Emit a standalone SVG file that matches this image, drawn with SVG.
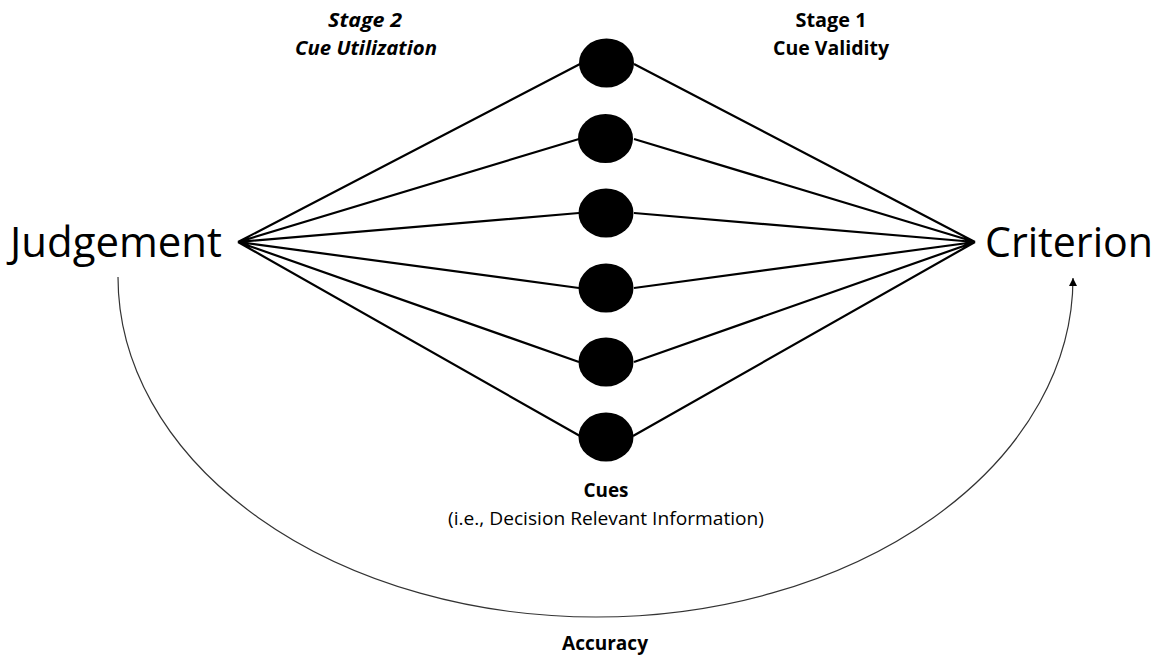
<svg xmlns="http://www.w3.org/2000/svg" width="1163" height="662" viewBox="0 0 1163 662">
  <style>
    text { font-family: "Open Sans", "Noto Sans", "DejaVu Sans", sans-serif; fill: #000; }
    .big { font-size: 42px; }
    .lbl { font-size: 20px; font-weight: bold; text-anchor: middle; }
    .ital { font-style: italic; }
    .sub { font-size: 19px; text-anchor: middle; }
    .link { stroke: #000; stroke-width: 2.2; fill: none; }
    .cue { fill: #000; }
    .arc { stroke: #333; stroke-width: 1.2; fill: none; }
  </style>
  <defs>
    <marker id="tip" markerWidth="8" markerHeight="8" refX="8" refY="4" orient="auto" markerUnits="userSpaceOnUse">
      <path d="M0,0 L8,4 L0,8 Z" fill="#000"/>
    </marker>
  </defs>
  <rect width="1163" height="662" fill="#fff"/>

  <!-- connectors: judgement -> cues, cues -> criterion, accuracy arc -->
  <g id="connectors">
    <path class="link" d="M238,242 L580,64 M238,242 L579,139 M238,242 L579,213 M238,242 L579,288 M238,242 L579,362 M238,242 L580,436"/>
    <path class="link" d="M975,242 L634,64 M975,242 L634,139 M975,242 L634,213 M975,242 L634,288 M975,242 L634,362 M975,242 L633,436"/>
    <path class="arc" d="M118,277 A478,340 0 0 0 596,617 A477,339 0 0 0 1073,278" marker-end="url(#tip)"/>
  </g>

  <g id="judgement">
    <text class="big" x="10" y="257" textLength="212" lengthAdjust="spacingAndGlyphs">Judgement</text>
  </g>
  <g id="criterion">
    <text class="big" x="985" y="257" textLength="168" lengthAdjust="spacingAndGlyphs">Criterion</text>
  </g>

  <g id="cues">
    <ellipse class="cue" cx="606.5" cy="63" rx="27.5" ry="24.5"/>
    <ellipse class="cue" cx="605.5" cy="138.5" rx="27.5" ry="24.5"/>
    <ellipse class="cue" cx="606" cy="213" rx="27.5" ry="24.5"/>
    <ellipse class="cue" cx="606" cy="288" rx="27.5" ry="24.5"/>
    <ellipse class="cue" cx="606" cy="362" rx="27.5" ry="24.5"/>
    <ellipse class="cue" cx="606" cy="437" rx="27.5" ry="24.5"/>
  </g>

  <g id="stage2">
    <text class="lbl ital" x="365" y="27" textLength="74" lengthAdjust="spacingAndGlyphs">Stage 2</text>
    <text class="lbl ital" x="366" y="55" textLength="142" lengthAdjust="spacingAndGlyphs">Cue Utilization</text>
  </g>
  <g id="stage1">
    <text class="lbl" x="831" y="27" textLength="71" lengthAdjust="spacingAndGlyphs">Stage 1</text>
    <text class="lbl" x="831" y="55" textLength="116" lengthAdjust="spacingAndGlyphs">Cue Validity</text>
  </g>

  <g id="cues-label">
    <text class="lbl" x="606" y="497" textLength="45" lengthAdjust="spacingAndGlyphs">Cues</text>
    <text class="sub" x="606" y="525" textLength="316" lengthAdjust="spacingAndGlyphs">(i.e., Decision Relevant Information)</text>
  </g>

  <g id="accuracy">
    <text class="lbl" x="605" y="650" textLength="86" lengthAdjust="spacingAndGlyphs">Accuracy</text>
  </g>
</svg>
